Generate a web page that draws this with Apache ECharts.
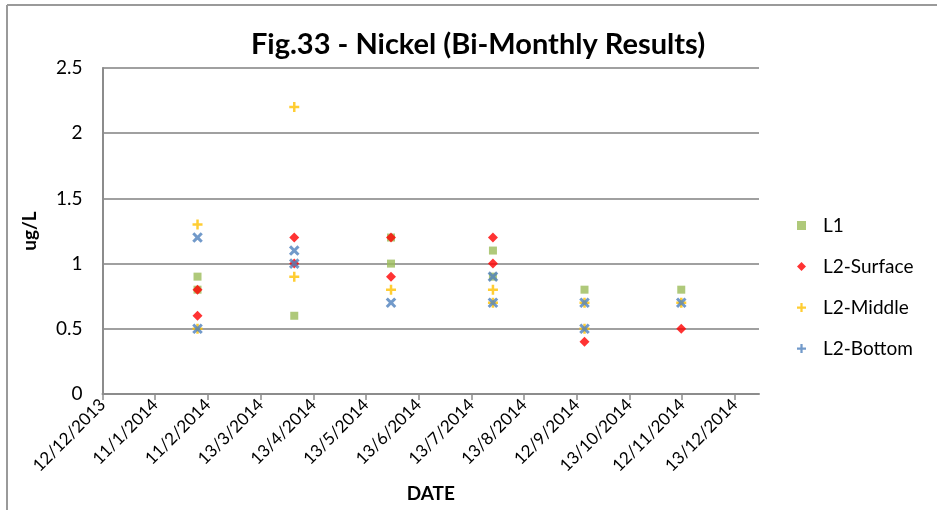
<!DOCTYPE html>
<html>
<head>
<meta charset="utf-8">
<script src="https://cdn.jsdelivr.net/npm/echarts@6/dist/echarts.min.js"></script>
<style>
  html, body { margin: 0; padding: 0; background: #fff; }
  #chart { width: 937px; height: 510px; }
</style>
</head>
<body>
<div id="chart"></div>
<script>
// Sampling dates (bi-monthly rounds)
const sampleDates = ['2014-02-05', '2014-04-02', '2014-05-28', '2014-07-26', '2014-09-17', '2014-11-12'];

// Nickel results in ug/L, one list per sampling date (replicates share a date)
const l1Values       = [[0.9, 0.8], [0.6], [1.2, 1.0], [1.1, 0.9], [0.8], [0.8]];
const surfaceValues  = [[0.8, 0.6], [1.2, 1.0], [1.2, 0.9], [1.2, 1.0], [0.4], [0.5]];
const middleValues   = [[1.3, 0.5], [2.2, 0.9], [0.8], [0.8, 0.7], [0.7, 0.5], [0.7]];
const bottomValues   = [[1.2, 0.5], [1.1, 1.0], [0.7], [0.9, 0.7], [0.7, 0.5], [0.7]];

const seriesNames = ['L1', 'L2-Surface', 'L2-Middle', 'L2-Bottom'];

// Date axis: starts 12/12/2013, major unit 30.5 days
const axisStart = '2013-12-12';
const axisEndDays = 380;
const majorUnit = 30.5;
const tickCount = 13;

const DAY = 86400000;
const baseMs = Date.parse(axisStart + 'T00:00:00Z');
const toDays = s => (Date.parse(s + 'T00:00:00Z') - baseMs) / DAY;
const tickValues = Array.from({ length: tickCount }, (_, i) => i * majorUnit);
const fmtDate = v => {
  const d = new Date(baseMs + Math.floor(v + 1e-6) * DAY);
  return d.getUTCDate() + '/' + (d.getUTCMonth() + 1) + '/' + d.getUTCFullYear();
};

function points(values) {
  const out = [];
  values.forEach((vals, i) => vals.forEach(v => out.push([toDays(sampleDates[i]), v])));
  return out;
}

const FONT = 'Lato';
const plusPath = 'path://M3,0H5V3H8V5H5V8H3V5H0V3H3Z';

const chart = echarts.init(document.getElementById('chart'), null, { renderer: 'canvas' });
chart.setOption({
  backgroundColor: '#ffffff',
  animation: false,
  textStyle: { fontFamily: FONT },
  title: {
    text: 'Fig.33 - Nickel (Bi-Monthly Results)',
    left: 473, top: 25, textAlign: 'center',
    textStyle: { fontFamily: FONT, fontWeight: 'bold', fontSize: 29, color: '#000' }
  },
  graphic: [
    { type: 'line', shape: { x1: 7, y1: 5, x2: 937, y2: 5 }, style: { stroke: '#9a9a9a', lineWidth: 2 } },
    { type: 'line', shape: { x1: 7, y1: 5, x2: 7, y2: 510 }, style: { stroke: '#9a9a9a', lineWidth: 2 } }
  ],
  legend: {
    orient: 'vertical',
    left: 792, top: 211,
    itemGap: 22,
    itemWidth: 9, itemHeight: 9,
    textStyle: { fontFamily: FONT, fontSize: 19, color: '#000', padding: [0, 0, 0, 12] },
    data: seriesNames
  },
  grid: { left: 102.5, top: 68, right: 178, bottom: 116, containLabel: false, outerBoundsMode: 'none' },
  xAxis: {
    type: 'value',
    min: 0, max: axisEndDays,
    name: 'DATE', nameLocation: 'middle', nameGap: 90,
    nameTextStyle: { fontFamily: FONT, fontWeight: 'bold', fontSize: 19, color: '#000' },
    axisLine: { show: true, lineStyle: { color: '#8c8c8c', width: 2 } },
    axisTick: { show: true, length: 6, customValues: tickValues, lineStyle: { color: '#8c8c8c', width: 1.5 } },
    axisLabel: {
      customValues: tickValues,
      rotate: 45, margin: 8,
      fontFamily: FONT, fontSize: 17, color: '#000',
      formatter: fmtDate
    },
    splitLine: { show: false }
  },
  yAxis: {
    type: 'value',
    min: 0, max: 2.5, interval: 0.5,
    name: 'ug/L', nameLocation: 'middle', nameGap: 63, nameRotate: 90,
    nameTextStyle: { fontFamily: FONT, fontWeight: 'bold', fontSize: 19, color: '#000' },
    axisLine: { show: true, lineStyle: { color: '#8c8c8c', width: 2 } },
    axisTick: { show: false },
    axisLabel: { fontFamily: FONT, fontSize: 19, color: '#000', margin: 20 },
    splitLine: { show: true, lineStyle: { color: '#a0a0a0', width: 2 } }
  },
  series: [
    { name: 'L1', type: 'scatter', symbol: 'rect', symbolSize: 8,
      itemStyle: { color: '#9BBB59' }, data: points(l1Values) },
    { name: 'L2-Surface', type: 'scatter', symbol: 'diamond', symbolSize: 10,
      itemStyle: { color: '#FF0000' }, data: points(surfaceValues) },
    { name: 'L2-Middle', type: 'scatter', symbol: plusPath, symbolSize: 10,
      itemStyle: { color: '#FFC000' }, data: points(middleValues) },
    { name: 'L2-Bottom', type: 'scatter', symbol: plusPath, symbolSize: 12, symbolRotate: 45,
      itemStyle: { color: '#4F81BD' }, data: points(bottomValues) }
  ]
});
</script>
</body>
</html>
